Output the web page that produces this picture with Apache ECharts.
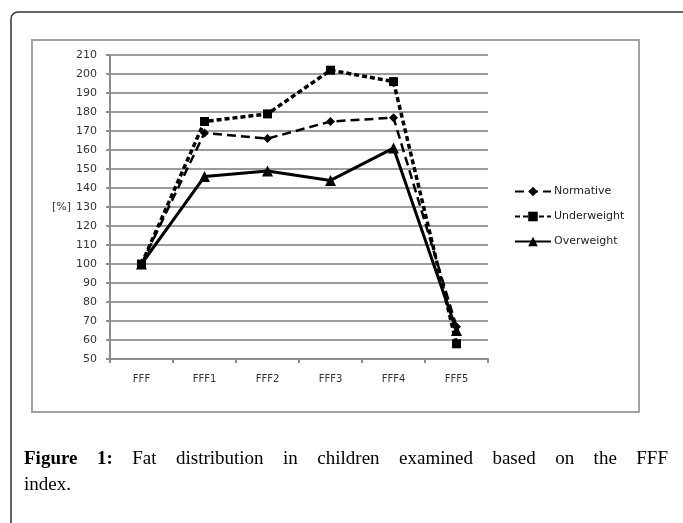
<!DOCTYPE html>
<html>
<head>
<meta charset="utf-8">
<script src="https://cdn.jsdelivr.net/npm/echarts@6/dist/echarts.min.js"></script>
<style>
html, body { margin: 0; padding: 0; background: #fff; }
#chart { width: 683px; height: 523px; }
</style>
</head>
<body>
<div id="chart"></div>
<script>
// data
const categories = ['FFF', 'FFF1', 'FFF2', 'FFF3', 'FFF4', 'FFF5'];
const normative = [100, 169, 166, 175, 177, 67];
const underweight = [100, 175, 179, 202, 196, 58];
const overweight = [100, 146, 149, 144, 161, 65];
const yTicks = [50, 60, 70, 80, 90, 100, 110, 120, 130, 140, 150, 160, 170, 180, 190, 200, 210];
const seriesNames = ['Normative', 'Underweight', 'Overweight'];
const yUnit = '[%]';
const captionBold = 'Figure 1:';
const captionLine1 = 'Fat distribution in children examined based on the FFF';
const captionLine2 = 'index.';

const chart = echarts.init(document.getElementById('chart'), null, { renderer: 'canvas' });

const axisGray = '#8c8c8c';
const gridGray = '#9c9c9c';
const labelFont = '"DejaVu Sans", Verdana, sans-serif';
const serif = '"Liberation Serif", "DejaVu Serif", serif';
const capSize = '19px ';

// justify the first caption line across the card, like the journal layout
function captionTexts() {
	const ctx = document.createElement('canvas').getContext('2d');
	const words = captionBold.split(' ').map(w => ({ t: w, bold: true }))
		.concat(captionLine1.split(' ').map(w => ({ t: w, bold: false })));
	let total = 0;
	words.forEach(w => {
		ctx.font = (w.bold ? 'bold ' : '') + capSize + serif;
		w.w = ctx.measureText(w.t).width;
		total += w.w;
	});
	const left = 24, right = 668;
	const gap = (right - left - total) / (words.length - 1);
	let x = left;
	const out = [];
	words.forEach(w => {
		out.push({
			type: 'text',
			style: {
				text: w.t, x: x, y: 459,
				font: (w.bold ? 'bold ' : '') + capSize + serif,
				fill: '#000', verticalAlign: 'middle'
			}
		});
		x += w.w + gap;
	});
	out.push({
		type: 'text',
		style: { text: captionLine2, x: left, y: 485, font: capSize + serif, fill: '#000', verticalAlign: 'middle' }
	});
	return out;
}

chart.setOption({
	animation: false,
	backgroundColor: '#fff',
	grid: {
		left: 110,
		right: 195,
		top: 55,
		bottom: 164
	},
	legend: {
		data: seriesNames,
		orient: 'vertical',
		left: 509,
		top: 181,
		itemWidth: 36,
		itemHeight: 12,
		itemGap: 14,
		textStyle: { fontSize: 11, color: '#222', fontFamily: labelFont, padding: [0, 0, 0, -2] }
	},
	xAxis: {
		type: 'category',
		data: categories,
		boundaryGap: true,
		axisLine: { lineStyle: { color: axisGray, width: 2 } },
		axisTick: { show: true, length: 4, lineStyle: { color: axisGray, width: 2 } },
		axisLabel: { margin: 15, fontSize: 10, color: '#333', fontFamily: labelFont }
	},
	yAxis: {
		type: 'value',
		min: yTicks[0],
		max: yTicks[yTicks.length - 1],
		interval: yTicks[1] - yTicks[0],
		axisLine: { show: true, lineStyle: { color: axisGray, width: 2 } },
		axisTick: { show: true, length: 4, lineStyle: { color: axisGray, width: 2 } },
		splitLine: { lineStyle: { color: gridGray, width: 2 } },
		axisLabel: { margin: 13, fontSize: 11, color: '#333', fontFamily: labelFont }
	},
	series: [
		{
			name: seriesNames[0],
			type: 'line',
			data: normative,
			symbol: 'diamond',
			symbolSize: 9,
			itemStyle: { color: '#000' },
			lineStyle: { color: '#000', width: 2.5, type: [9, 5] },
			z: 3
		},
		{
			name: seriesNames[1],
			type: 'line',
			data: underweight,
			symbol: 'rect',
			symbolSize: 9,
			itemStyle: { color: '#000' },
			lineStyle: { color: '#000', width: 3.5, type: [5, 3] },
			z: 4
		},
		{
			name: seriesNames[2],
			type: 'line',
			data: overweight,
			symbol: 'triangle',
			symbolSize: 11,
			itemStyle: { color: '#000' },
			lineStyle: { color: '#000', width: 3 },
			z: 5
		}
	],
	graphic: [
		{
			type: 'rect',
			z: -10,
			shape: { x: 11, y: 12, width: 700, height: 600, r: 7 },
			style: { fill: 'none', stroke: '#333', lineWidth: 1.5 }
		},
		{
			type: 'rect',
			z: -10,
			shape: { x: 32, y: 40, width: 607, height: 372 },
			style: { fill: 'none', stroke: '#a3a3a3', lineWidth: 2 }
		},
		{
			type: 'text',
			style: { text: yUnit, x: 52, y: 207, font: '11px ' + labelFont, fill: '#333', verticalAlign: 'middle' }
		}
	].concat(captionTexts())
});
</script>
</body>
</html>
